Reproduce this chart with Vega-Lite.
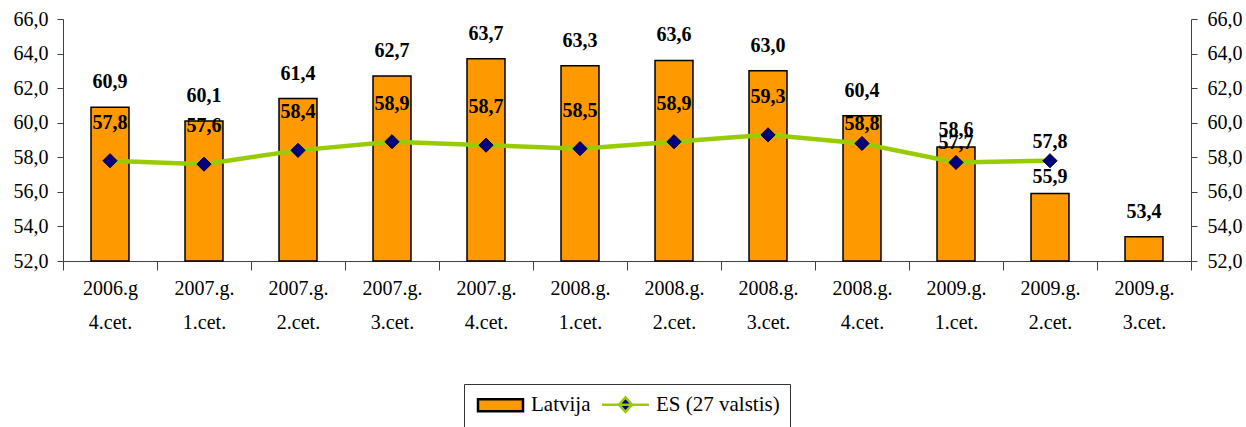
{
  "$schema": "https://vega.github.io/schema/vega-lite/v6.json",
  "width": 1128,
  "height": 242,
  "autosize": {"type": "none"},
  "padding": {"left": 63, "top": 19, "right": 55, "bottom": 166},
  "data": {
    "values": [
      {"period": "2006.g|4.cet.", "lv": 60.9, "es": 57.8},
      {"period": "2007.g.|1.cet.", "lv": 60.1, "es": 57.6},
      {"period": "2007.g.|2.cet.", "lv": 61.4, "es": 58.4},
      {"period": "2007.g.|3.cet.", "lv": 62.7, "es": 58.9},
      {"period": "2007.g.|4.cet.", "lv": 63.7, "es": 58.7},
      {"period": "2008.g.|1.cet.", "lv": 63.3, "es": 58.5},
      {"period": "2008.g.|2.cet.", "lv": 63.6, "es": 58.9},
      {"period": "2008.g.|3.cet.", "lv": 63.0, "es": 59.3},
      {"period": "2008.g.|4.cet.", "lv": 60.4, "es": 58.8},
      {"period": "2009.g.|1.cet.", "lv": 58.6, "es": 57.7},
      {"period": "2009.g.|2.cet.", "lv": 55.9, "es": 57.8},
      {"period": "2009.g.|3.cet.", "lv": 53.4, "es": null}
    ]
  },
  "transform": [
    {"fold": ["lv", "es"], "as": ["key", "v"]},
    {"filter": "isValid(datum.v)"}
  ],
  "encoding": {
    "x": {
      "field": "period", "type": "nominal", "sort": null,
      "scale": {"paddingInner": 0, "paddingOuter": 0},
      "axis": {
        "title": null, "labelAngle": 0, "labelExpr": "split(datum.label, '|')",
        "labelLineHeight": 34, "tickBand": "extent", "tickSize": 9, "labelPadding": 8,
        "labelFont": "Liberation Serif, Times New Roman, serif", "labelFontSize": 20, "labelColor": "black",
        "domainColor": "#404040", "tickColor": "#404040", "labelBaseline": "top"
      }
    }
  },
  "layer": [
    {
      "transform": [{"filter": "datum.key === 'lv'"}],
      "mark": {"type": "bar", "width": {"band": 0.404}, "stroke": "black", "strokeWidth": 1.5},
      "encoding": {
        "y": {
          "field": "v", "type": "quantitative",
          "scale": {"domain": [52, 66], "zero": false, "nice": false},
          "axis": {
            "title": null, "values": [52, 54, 56, 58, 60, 62, 64, 66], "format": ".1f",
            "tickSize": 6, "labelPadding": 9, "grid": false,
            "labelFont": "Liberation Serif, Times New Roman, serif", "labelFontSize": 20, "labelColor": "black",
            "domainColor": "#404040", "tickColor": "#404040"
          }
        },
        "y2": {"datum": 52},
        "fill": {
          "field": "key", "type": "nominal",
          "scale": {"domain": ["lv", "es"], "range": ["#FF9900", "#000080"]},
          "legend": {
            "orient": "none", "legendX": 401, "legendY": 365, "direction": "horizontal",
            "title": null, "strokeColor": "#333", "padding": 10,
            "labelFont": "Liberation Serif, Times New Roman, serif", "labelFontSize": 21, "labelColor": "black",
            "labelExpr": "datum.label === 'lv' ? 'Latvija' : 'ES (27 valstis)'",
            "symbolSize": 144, "symbolOffset": 16, "labelOffset": 20, "columnPadding": 6,
            "symbolOpacity": 1, "symbolStrokeWidth": 2.5
          }
        }
      }
    },
    {
      "transform": [{"filter": "datum.key === 'es'"}],
      "mark": {"type": "line", "strokeWidth": 4.5},
      "encoding": {
        "y": {
          "field": "v", "type": "quantitative",
          "axis": {
            "orient": "right", "title": null, "values": [52, 54, 56, 58, 60, 62, 64, 66], "format": ".1f",
            "tickSize": 6, "labelPadding": 10, "grid": false,
            "labelFont": "Liberation Serif, Times New Roman, serif", "labelFontSize": 20, "labelColor": "black",
            "domainColor": "#404040", "tickColor": "#404040"
          }
        },
        "stroke": {
          "field": "key", "type": "nominal",
          "scale": {"domain": ["lv", "es"], "range": ["black", "#99CC00"]},
          "legend": {
            "orient": "none", "legendX": 401, "legendY": 365, "direction": "horizontal",
            "title": null, "strokeColor": "#333", "padding": 10,
            "labelFont": "Liberation Serif, Times New Roman, serif", "labelFontSize": 21, "labelColor": "black",
            "labelExpr": "datum.label === 'lv' ? 'Latvija' : 'ES (27 valstis)'",
            "symbolSize": 144, "symbolOffset": 16, "labelOffset": 20, "columnPadding": 6,
            "symbolOpacity": 1, "symbolStrokeWidth": 2.5
          }
        }
      }
    },
    {
      "transform": [{"filter": "datum.key === 'es'"}],
      "mark": {"type": "point", "shape": "diamond", "filled": true, "size": 200, "fill": "#000080", "stroke": "black", "strokeWidth": 1, "opacity": 1},
      "encoding": {
        "y": {"field": "v", "type": "quantitative", "axis": null}
      }
    },
    {
      "mark": {"type": "point", "filled": true, "opacity": 0},
      "encoding": {
        "y": {"field": "v", "type": "quantitative", "axis": null},
        "shape": {
          "field": "key", "type": "nominal",
          "scale": {"domain": ["lv", "es"], "range": ["M-3.75,-1H3.75V1H-3.75Z", "M-3.9,0H3.9M0,-1.2L1.1,0L0,1.2L-1.1,0Z"]},
          "legend": {
            "orient": "none", "legendX": 401, "legendY": 365, "direction": "horizontal",
            "title": null, "strokeColor": "#333", "padding": 10,
            "labelFont": "Liberation Serif, Times New Roman, serif", "labelFontSize": 21, "labelColor": "black",
            "labelExpr": "datum.label === 'lv' ? 'Latvija' : 'ES (27 valstis)'",
            "symbolSize": 144, "symbolOffset": 16, "labelOffset": 20, "columnPadding": 6,
            "symbolOpacity": 1, "symbolStrokeWidth": 2.5
          }
        }
      }
    },
    {
      "transform": [{"filter": {"and": [{"field": "key", "equal": "lv"}, {"not": {"field": "period", "oneOf": ["2009.g.|1.cet.", "2009.g.|2.cet."]}}]}}],
      "mark": {"type": "text", "dy": -25, "font": "Liberation Serif, Times New Roman, serif", "fontSize": 20, "fontWeight": "bold", "color": "black", "baseline": "middle"},
      "encoding": {
        "y": {"field": "v", "type": "quantitative", "axis": null},
        "text": {"field": "v", "type": "quantitative", "format": ".1f"}
      }
    },
    {
      "transform": [{"filter": {"and": [{"field": "key", "equal": "lv"}, {"field": "period", "oneOf": ["2009.g.|1.cet.", "2009.g.|2.cet."]}]}}],
      "mark": {"type": "text", "dy": -17, "font": "Liberation Serif, Times New Roman, serif", "fontSize": 20, "fontWeight": "bold", "color": "black", "baseline": "middle"},
      "encoding": {
        "y": {"field": "v", "type": "quantitative", "axis": null},
        "text": {"field": "v", "type": "quantitative", "format": ".1f"}
      }
    },
    {
      "transform": [{"filter": {"and": [{"field": "key", "equal": "es"}, {"not": {"field": "period", "oneOf": ["2008.g.|4.cet.", "2009.g.|1.cet.", "2009.g.|2.cet."]}}]}}],
      "mark": {"type": "text", "dy": -38, "font": "Liberation Serif, Times New Roman, serif", "fontSize": 20, "fontWeight": "bold", "color": "black", "baseline": "middle"},
      "encoding": {
        "y": {"field": "v", "type": "quantitative", "axis": null},
        "text": {"field": "v", "type": "quantitative", "format": ".1f"}
      }
    },
    {
      "transform": [{"filter": {"and": [{"field": "key", "equal": "es"}, {"field": "period", "oneOf": ["2008.g.|4.cet.", "2009.g.|1.cet.", "2009.g.|2.cet."]}]}}],
      "mark": {"type": "text", "dy": -19, "font": "Liberation Serif, Times New Roman, serif", "fontSize": 20, "fontWeight": "bold", "color": "black", "baseline": "middle"},
      "encoding": {
        "y": {"field": "v", "type": "quantitative", "axis": null},
        "text": {"field": "v", "type": "quantitative", "format": ".1f"}
      }
    }
  ],
  "resolve": {"axis": {"y": "independent"}},
  "config": {
    "view": {"stroke": null},
    "locale": {"number": {"decimal": ",", "thousands": " ", "grouping": [3], "currency": ["", ""]}}
  }
}
